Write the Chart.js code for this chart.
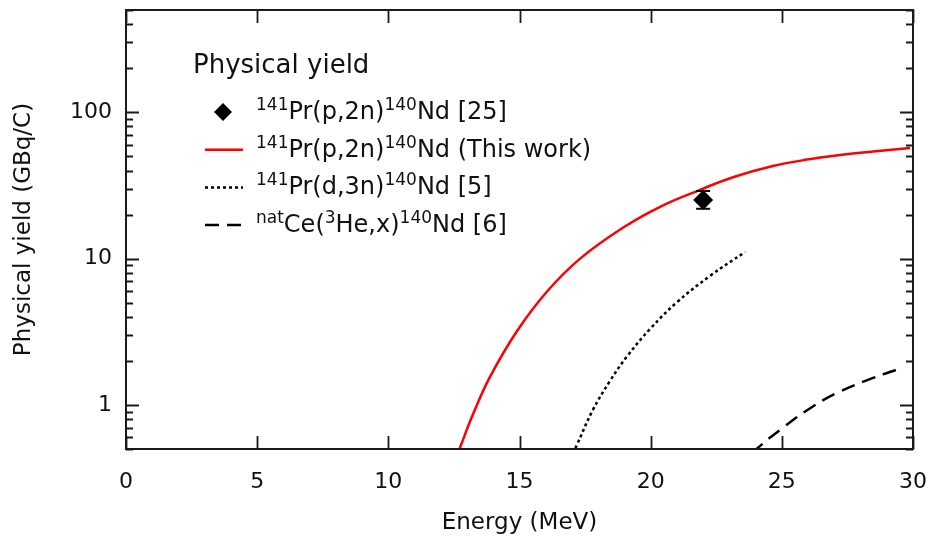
<!DOCTYPE html>
<html>
<head>
<meta charset="utf-8">
<script src="https://cdn.jsdelivr.net/npm/chart.js@4.4.1/dist/chart.umd.min.js"></script>
<style>
  html, body { margin: 0; padding: 0; background: #fff; }
  #wrap { width: 935px; height: 546px; }
</style>
</head>
<body>
<div id="wrap"><canvas id="c" width="935" height="546"></canvas></div>
<script>
// ---- data ----
const xTicks = [0, 5, 10, 15, 20, 25, 30];
const yTicks = [1, 10, 100];

const legendTitle = 'Physical yield';

// 141Pr(p,2n)140Nd [25] : single measured point with error bar
const refEnergy = [22.0];
const refYield = [25.2];
const refYieldLow = [21.9];
const refYieldHigh = [29.0];

// 141Pr(p,2n)140Nd (This work)
const thisWorkEnergy = [12.6, 12.73, 13.23, 13.88, 14.9, 16.05, 17.31, 18.94, 20.36, 21.88, 23.14, 24.66, 25.96, 27.22, 28.48, 29.89];
const thisWorkYield  = [0.443, 0.51, 0.866, 1.56, 3.19, 5.96, 10.0, 16.25, 22.6, 29.5, 36.0, 42.9, 47.5, 51.1, 54.0, 56.9];

// 141Pr(d,3n)140Nd [5]
const dEnergy = [17.04, 17.19, 17.8, 18.45, 19.1, 19.98, 21.01, 22.27, 23.6];
const dYield  = [0.464, 0.534, 0.927, 1.46, 2.15, 3.31, 5.05, 7.64, 11.1];

// natCe(3He,x)140Nd [6]
const heEnergy = [23.9, 24.09, 25.05, 26.08, 27.11, 28.48, 29.58];
const heYield  = [0.46, 0.51, 0.70, 0.95, 1.21, 1.53, 1.79];

const labels = [
  '^{141}Pr(p,2n)^{140}Nd [25]',
  '^{141}Pr(p,2n)^{140}Nd (This work)',
  '^{141}Pr(d,3n)^{140}Nd [5]',
  '^{nat}Ce(^{3}He,x)^{140}Nd [6]'
];

const pts = (xs, ys) => xs.map((x, i) => ({ x: x, y: ys[i] }));

const FONT = '"DejaVu Sans", Verdana, sans-serif';
const TXT = '#111';

function drawRich(ctx, text, x, baseline, size, supSize, raise) {
  const parts = text.split(/(\^\{[^}]*\})/);
  for (const p of parts) {
    if (!p) continue;
    if (p.startsWith('^{')) {
      const t = p.slice(2, -1);
      ctx.font = supSize + 'px ' + FONT;
      ctx.fillText(t, x, baseline - raise);
      x += ctx.measureText(t).width;
    } else {
      ctx.font = size + 'px ' + FONT;
      ctx.fillText(p, x, baseline);
      x += ctx.measureText(p).width;
    }
  }
}

function noPad(s) { s.paddingTop = 0; s.paddingBottom = 0; s.paddingLeft = 0; s.paddingRight = 0; }

const decor = {
  id: 'decor',
  afterDatasetsDraw(chart) {
    const ctx = chart.ctx;
    const xs = chart.scales.x, ys = chart.scales.y;
    const a = chart.chartArea;
    ctx.save();
    // error bars
    ctx.strokeStyle = '#000';
    ctx.lineWidth = 2;
    refEnergy.forEach((e, i) => {
      const px = xs.getPixelForValue(e);
      const y1 = ys.getPixelForValue(refYieldLow[i]);
      const y2 = ys.getPixelForValue(refYieldHigh[i]);
      ctx.beginPath();
      ctx.moveTo(px, y1); ctx.lineTo(px, y2);
      ctx.moveTo(px - 7, y1); ctx.lineTo(px + 7, y1);
      ctx.moveTo(px - 7, y2); ctx.lineTo(px + 7, y2);
      ctx.stroke();
    });
    // frame
    ctx.strokeStyle = '#1a1a1a';
    ctx.lineWidth = 2;
    ctx.strokeRect(a.left, a.top, a.right - a.left, a.bottom - a.top);
    // x ticks (bottom + top, inward)
    ctx.lineWidth = 1.8;
    ctx.beginPath();
    xTicks.forEach(v => {
      const px = Math.round(xs.getPixelForValue(v)) + 0.5;
      ctx.moveTo(px, a.bottom); ctx.lineTo(px, a.bottom - 13);
      ctx.moveTo(px, a.top); ctx.lineTo(px, a.top + 13);
    });
    // y ticks (left + right, inward), majors + minors
    const lo = Math.floor(Math.log10(ys.min)), hi = Math.ceil(Math.log10(ys.max));
    for (let d = lo; d <= hi; d++) {
      for (let k = 1; k <= 9; k++) {
        const v = k * Math.pow(10, d);
        if (v < ys.min * 0.999 || v > ys.max * 1.001) continue;
        const len = k === 1 ? 13 : 7;
        const py = Math.round(ys.getPixelForValue(v)) + 0.5;
        ctx.moveTo(a.left, py); ctx.lineTo(a.left + len, py);
        ctx.moveTo(a.right, py); ctx.lineTo(a.right - len, py);
      }
    }
    ctx.stroke();
    ctx.restore();
  },
  afterDraw(chart) {
    const ctx = chart.ctx;
    ctx.save();
    ctx.fillStyle = TXT;
    ctx.textBaseline = 'alphabetic';
    ctx.textAlign = 'left';
    ctx.font = '26px ' + FONT;
    ctx.fillText(legendTitle, 193, 73);
    const rowY0 = 112, rowStep = 37.7;
    chart.data.datasets.forEach((ds, i) => {
      const cy = rowY0 + i * rowStep;
      ctx.save();
      if (ds.showLine === false) {
        ctx.fillStyle = ds.pointBackgroundColor;
        ctx.beginPath();
        const r = 9;
        ctx.moveTo(223 - r, cy); ctx.lineTo(223, cy - r);
        ctx.lineTo(223 + r, cy); ctx.lineTo(223, cy + r);
        ctx.closePath(); ctx.fill();
      } else {
        ctx.strokeStyle = ds.borderColor;
        ctx.lineWidth = ds.borderWidth;
        ctx.setLineDash(ds.borderDash || []);
        ctx.beginPath();
        ctx.moveTo(205, cy); ctx.lineTo(243, cy);
        ctx.stroke();
      }
      ctx.restore();
      ctx.fillStyle = TXT;
      drawRich(ctx, ds.label, 256, cy + 7, 24, 17, 9);
    });
    ctx.restore();
  }
};

new Chart(document.getElementById('c'), {
  type: 'line',
  data: {
    datasets: [
      {
        label: labels[0],
        data: pts(refEnergy, refYield),
        showLine: false,
        pointStyle: 'rectRot',
        pointRadius: 10,
        pointBackgroundColor: '#000',
        pointBorderColor: '#000',
        pointBorderWidth: 0,
        borderColor: '#000'
      },
      {
        label: labels[1],
        data: pts(thisWorkEnergy, thisWorkYield),
        borderColor: '#ff0000',
        borderWidth: 2.5,
        pointRadius: 0,
        tension: 0.4,
        fill: false
      },
      {
        label: labels[2],
        data: pts(dEnergy, dYield),
        borderColor: '#000',
        borderWidth: 2.5,
        borderDash: [3, 3],
        pointRadius: 0,
        tension: 0.4,
        fill: false
      },
      {
        label: labels[3],
        data: pts(heEnergy, heYield),
        borderColor: '#000',
        borderWidth: 2.5,
        borderDash: [14, 8],
        pointRadius: 0,
        tension: 0.4,
        fill: false
      }
    ]
  },
  options: {
    responsive: false,
    animation: false,
    devicePixelRatio: 1,
    layout: { padding: { top: 9, right: 22, left: 0, bottom: 0 } },
    plugins: { legend: { display: false }, tooltip: { enabled: false } },
    scales: {
      x: {
        type: 'linear',
        min: 0, max: 30,
        afterBuildTicks: s => { s.ticks = xTicks.map(v => ({ value: v })); },
        afterFit: s => { s.height = 97; noPad(s); },
        grid: { display: false, drawTicks: false },
        border: { display: false },
        ticks: { color: TXT, font: { family: FONT, size: 22 }, padding: 20, maxRotation: 0, autoSkip: false },
        title: { display: true, text: 'Energy (MeV)', color: TXT, font: { family: FONT, size: 23 }, padding: { top: 0, bottom: 9 } }
      },
      y: {
        type: 'logarithmic',
        min: 0.5, max: 500,
        afterBuildTicks: s => { s.ticks = yTicks.map(v => ({ value: v })); },
        afterFit: s => { s.width = 126; noPad(s); },
        grid: { display: false, drawTicks: false },
        border: { display: false },
        ticks: { color: TXT, font: { family: FONT, size: 22 }, padding: 14, callback: v => String(v), autoSkip: false },
        title: { display: true, text: 'Physical yield (GBq/C)', color: TXT, font: { family: FONT, size: 23 }, padding: { top: 10, bottom: 0 } }
      }
    }
  },
  plugins: [decor]
});
</script>
</body>
</html>
